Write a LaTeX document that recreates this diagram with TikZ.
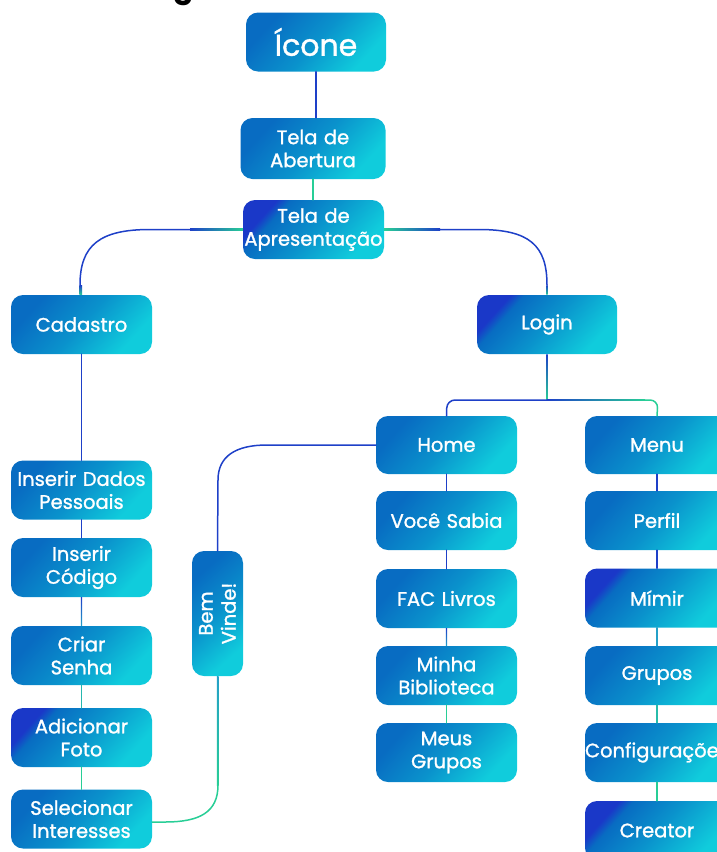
\documentclass[tikz,border=0pt]{standalone}
\usepackage{fontspec}
\setmainfont{Poppins}
\newfontfamily\boxfont{Poppins}[FakeBold=1.3]
\usetikzlibrary{calc}
\definecolor{bdark}{RGB}{8,108,194}
\definecolor{bmid}{RGB}{10,146,204}
\definecolor{blight}{RGB}{16,204,220}
\definecolor{bdeep}{RGB}{26,56,200}
\definecolor{lblue}{RGB}{30,64,200}
\definecolor{lgreen}{RGB}{40,206,150}
\definecolor{lteal}{RGB}{36,160,200}
\pgfdeclareverticalshading{bxn}{100bp}{color(0bp)=(blight); color(27bp)=(blight); color(50bp)=(bmid); color(73bp)=(bdark); color(100bp)=(bdark)}
\pgfdeclareverticalshading{bxd}{100bp}{color(0bp)=(blight); color(27bp)=(blight); color(50bp)=(bmid); color(68bp)=(bdark); color(73bp)=(bdeep); color(100bp)=(bdeep)}
\newcommand\vg[4]{\shade[top color=#3,bottom color=#4] ($#1+(-0.7,0)$) rectangle ($#2+(0.7,0)$);}
\newcommand\hg[4]{\shade[left color=#3,right color=#4] ($#1+(0,-0.7)$) rectangle ($#2+(0,0.7)$);}
\begin{document}
\begin{tikzpicture}[x=1pt,y=-1pt,
  conn/.style={line width=1.5pt,line cap=round},
  box/.style={rounded corners=12pt,shade,shading=bxn,
    shading angle=48,text width=141pt,minimum height=59pt,inner sep=0pt,align=center,
    text=white,font=\boxfont\fontsize{19.5}{23}\selectfont},
  boxd/.style={box,shading=bxd},
  wide/.style={text width=144pt}]
\useasboundingbox (0,0) rectangle (716,852);
\node[anchor=base,inner sep=0pt,font=\fontsize{30}{30}\selectfont\bfseries,text=black] (ttl) at (184,-3) {g};
% nodes
\node[box,font=\boxfont\fontsize{30}{34}\selectfont,text width=140pt] (icone) at (316,42) {Ícone};
\node[box,text width=145pt,minimum height=61pt] (abert) at (313,148.5) {Tela de\\Abertura};
\node[boxd] (apres) at (313.5,229.5) {Tela de\\Apresentação};
\node[box] (cad) at (81.5,324.5) {Cadastro};
\node[boxd,text width=140pt] (login) at (547,324.5) {Login};
\node[box,minimum height=58pt] (home) at (446.5,445) {Home};
\node[box,wide,minimum height=58pt] (menu) at (657,445) {Menu};
\node[box] (voce) at (446.5,520.5) {Você Sabia};
\node[box] (fac) at (446.5,598.5) {FAC Livros};
\node[box] (minha) at (446.5,675.5) {Minha\\Biblioteca};
\node[box] (meus) at (446.5,752.5) {Meus\\Grupos};
\node[box,wide] (perfil) at (657,520.5) {Perfil};
\node[boxd,wide] (mimir) at (657,598) {Mímir};
\node[box,wide] (grupos) at (657,675.5) {Grupos};
\node[box,wide] (config) at (657,752.5) {Configurações};
\node[boxd,wide] (creator) at (657,830.5) {Creator};
\node[box] (dados) at (81.5,490) {Inserir Dados\\Pessoais};
\node[box] (codigo) at (81.5,567.5) {Inserir\\Código};
\node[box] (criar) at (81.5,655.5) {Criar\\Senha};
\node[boxd] (foto) at (81.5,737.5) {Adicionar\\Foto};
\node[box] (selec) at (81.5,819) {Selecionar\\Interesses};
\node[box,rotate=90,text width=125pt,minimum height=51pt,shading angle=42] (bem) at (217.5,613.5) {Bem\\Vinde!};
% coordinates
\coordinate (la) at (190,229.5);
\coordinate (lb) at (150,229.5);
\coordinate (lc) at (80,285);
\coordinate (ra) at (440,229.5);
\coordinate (rb) at (479,229.5);
\coordinate (rc) at (547,285);
\coordinate (lj) at (547,400);
\coordinate (hj) at (447,400);
\coordinate (mj) at (658,400);
\coordinate (mk) at (645,400);
\coordinate (ha) at (267,445);
\coordinate (hb) at (218,480);
\coordinate (sa) at (218,785);
\coordinate (sb) at (165,822);
\coordinate (se) at ($(selec.east)+(0,3)$);
% connectors
\draw[conn,lblue] (icone.south) -- (icone.south |- abert.north);
\draw[conn,lgreen] (abert.south) -- (abert.south |- apres.north);
\hg{(la)}{(apres.west)}{lblue}{lgreen}
\draw[conn,lblue] (la) -- (lb) .. controls (100,229.5) and (80,245) .. (lc);
\vg{(lc)}{(cad.north)}{lblue}{lgreen}
\hg{(apres.east)}{(ra)}{lgreen}{lblue}
\draw[conn,lblue] (ra) -- (rb) .. controls (529,229.5) and (547,245) .. (rc);
\vg{(rc)}{(login.north)}{lblue}{lgreen}
\draw[conn,lblue] (cad.south) -- (dados.north);
\draw[conn,lblue] (dados.south) -- (codigo.north);
\vg{(codigo.south)}{(criar.north)}{lblue}{lteal}
\draw[conn,lteal!50!lgreen] (criar.south) -- (foto.north);
\draw[conn,lgreen] (foto.south) -- (selec.north);
\vg{(login.south)}{(lj)}{lblue}{lgreen}
\draw[conn,lblue,rounded corners=8pt] (lj) -- (hj) -- (home.north);
\hg{(lj)}{(mk)}{lblue}{lgreen}
\draw[conn,lgreen,rounded corners=8pt] (mk) -- (mj) -- (menu.north);
\draw[conn,lblue] (home.west) -- (ha) .. controls (236,445) and (218,456) .. (hb) -- (bem.east);
\vg{(bem.west)}{(sa)}{lteal}{lgreen}
\draw[conn,lgreen] (sa) .. controls (218,812) and (200,822) .. (sb) -- (se);
\draw[conn,lblue] (home.south) -- (voce.north);
\draw[conn,lblue] (voce.south) -- (fac.north);
\vg{(fac.south)}{(minha.north)}{lblue}{lteal}
\draw[conn,lgreen] (minha.south) -- (meus.north);
\draw[conn,lblue] (menu.south) -- (perfil.north);
\draw[conn,lblue] (perfil.south) -- (mimir.north);
\draw[conn,lteal] (mimir.south) -- (grupos.north);
\draw[conn,lteal!40!lgreen] (grupos.south) -- (config.north);
\draw[conn,lgreen] (config.south) -- (creator.north);
\end{tikzpicture}
\end{document}
